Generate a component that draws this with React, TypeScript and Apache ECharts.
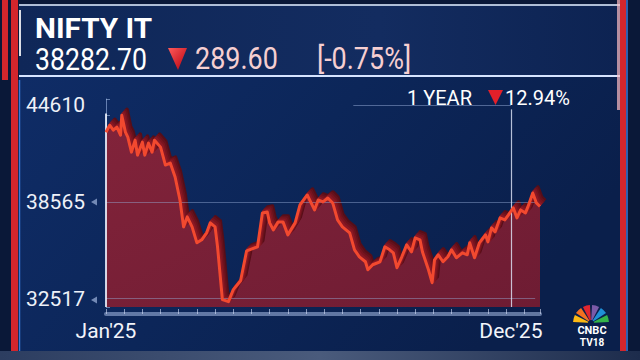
import React, { useEffect, useRef } from "react";
import * as echarts from "echarts";

// Day of year 2025 (0 = 1 Jan) and NIFTY IT close
const days = [
  0, 3, 6, 9, 12, 13, 16, 18, 21, 24,
  26, 30, 32, 35, 38, 40, 45, 49, 53, 57,
  61, 64, 67, 71, 75, 79, 83, 86, 90, 92,
  96, 101, 105, 111, 116, 125, 129, 133, 135, 138,
  142, 146, 150, 156, 160, 166, 170, 172, 175, 179,
  183, 187, 191, 195, 201, 205, 209, 214, 216, 220,
  226, 230, 234, 237, 240, 244, 248, 252, 255, 259,
  261, 266, 269, 271, 274, 278, 282, 285, 289, 294,
  298, 300, 304, 308, 313, 315, 318, 321, 325, 329,
  332, 336, 339, 342, 346, 348, 352, 355, 358,
];
const values = [
  42926, 43362, 43051, 43238, 42739, 43985, 42926, 42615, 41680, 42428,
  41493, 42303, 41493, 42241, 41680, 42428, 41992, 40870, 40995, 40123,
  38690, 37008, 37631, 37008, 36011, 36198, 36634, 37257, 37008, 35762,
  32460, 32335, 33083, 33643, 35512, 35762, 37880, 37942, 37257, 36821,
  37319, 37319, 36509, 37257, 38378, 39001, 38378, 38067, 38690, 38565,
  38814, 38503, 37444, 37008, 36634, 35575, 35138, 34827, 34329, 34640,
  34827, 35762, 35575, 35388, 34453, 35138, 35886, 35450, 36322, 36198,
  35450, 34329, 33519, 34952, 35263, 34827, 35138, 35575, 35076, 35388,
  35263, 36011, 35076, 36011, 36509, 36073, 36945, 36696, 37568, 37444,
  37755, 38191, 37568, 38067, 37880, 38254, 39126, 38503, 38283,
];

const yTickValues = [32517, 38565, 44610];
const xTickDays = [0, 334];
const xTickLabels = ["Jan'25", "Dec'25"];

const title = "NIFTY IT";
const lastPrice = "38282.70";
const change = "289.60";
const changePct = "[-0.75%]";
const yearLabel = "1 YEAR";
const yearPct = "12.94%";

const Y_MIN = 32000;
const Y_MAX = 45000;
const X_MIN = 0;
const X_MAX = 358;

export default function App() {
  const ref = useRef<HTMLDivElement>(null);

  useEffect(() => {
    if (!ref.current) return;
    const chart = echarts.init(ref.current, undefined, { renderer: "svg" });
    const data = days.map((d, i) => [d, values[i]]);

    const base = { left: 106, right: 100, top: 99, bottom: 53 };
    const layers = [1, 2, 3, 4];
    const grids: any[] = [base];
    layers.forEach((k) => {
      grids.push({
        left: base.left + 1.3 * k,
        right: base.right - 1.3 * k,
        top: base.top - 1.5 * k,
        bottom: base.bottom + 1.5 * k,
      });
    });

    const xAxes: any[] = [
      {
        type: "value",
        gridIndex: 0,
        min: X_MIN,
        max: X_MAX,
        interval: 15,
        offset: 7,
        axisLine: { show: true, lineStyle: { color: "rgba(170,190,230,0.55)", width: 4 } },
        axisTick: { show: true, inside: true, length: 5, lineStyle: { color: "rgba(215,225,250,0.6)" } },
        axisLabel: {
          customValues: xTickDays,
          showMinLabel: true,
          formatter: (v: number) => {
            const i = xTickDays.indexOf(v);
            return i >= 0 ? xTickLabels[i] : "";
          },
          color: "#f2f4fa",
          fontSize: 21,
          fontFamily: "Roboto",
          margin: 6,
        },
        splitLine: { show: false },
      },
    ];
    const yAxes: any[] = [
      {
        type: "value",
        gridIndex: 0,
        min: Y_MIN,
        max: Y_MAX,
        interval: 1000,
        offset: 6,
        axisLine: { show: true, lineStyle: { color: "rgba(160,185,230,0.6)", width: 1 } },
        axisTick: { show: true, inside: true, length: 4, lineStyle: { color: "rgba(170,195,235,0.55)" } },
        axisLabel: {
          customValues: yTickValues,
          formatter: (v: number) => String(v),
          color: "#eef1f8",
          fontSize: 21,
          fontFamily: "Roboto",
          margin: 15,
        },
        splitLine: { show: false },
      },
    ];
    layers.forEach((k) => {
      xAxes.push({ type: "value", gridIndex: k, min: X_MIN, max: X_MAX, show: false });
      yAxes.push({ type: "value", gridIndex: k, min: Y_MIN, max: Y_MAX, show: false });
    });

    const layerColors = ["#8a1824", "#78141f", "#66111c", "#560e18"];
    const extrusion = layers
      .slice()
      .reverse()
      .map((k) => ({
        type: "line",
        xAxisIndex: k,
        yAxisIndex: k,
        data,
        symbol: "none",
        silent: true,
        z: 3,
        lineStyle: { color: layerColors[k - 1], width: 3.5, join: "round" },
      }));

    const gridLine = { color: "rgba(150,172,215,0.45)", width: 1, type: "solid" };

    const option: any = {
      animation: false,
      backgroundColor: "#0a1838",
      grid: grids,
      xAxis: xAxes,
      yAxis: yAxes,
      series: [
        {
          type: "line",
          xAxisIndex: 0,
          yAxisIndex: 0,
          data,
          symbol: "none",
          z: 2,
          lineStyle: { width: 0 },
          areaStyle: {
            color: {
              type: "linear",
              x: 0, y: 0, x2: 1, y2: 1,
              colorStops: [
                { offset: 0, color: "#82233a" },
                { offset: 1, color: "#6e1c33" },
              ],
            },
            opacity: 1,
          },
          markLine: {
            silent: true,
            symbol: "none",
            label: { show: false },
            data: [
              [{ coord: [0, 38565], lineStyle: gridLine }, { coord: [354, 38565] }],
              [{ coord: [0, 32517], lineStyle: gridLine }, { coord: [354, 32517] }],
              [{ coord: [204, 44610], lineStyle: { ...gridLine, color: "rgba(150,172,215,0.5)" } }, { coord: [334, 44610] }],
              [{ coord: [334, 44350], lineStyle: { color: "rgba(225,232,250,0.8)", width: 1.2, type: "solid" } }, { coord: [334, 32000] }],
              [{ coord: [0, 44100], lineStyle: { color: "rgba(240,245,255,0.85)", width: 2, type: "solid" } }, { coord: [0, 32000] }],
            ],
          },
        },
        ...extrusion,
        {
          type: "line",
          xAxisIndex: 0,
          yAxisIndex: 0,
          data,
          symbol: "none",
          z: 5,
          lineStyle: { color: "#f2492f", width: 3, join: "round" },
        },
      ],
      graphic: {
        elements: [
          // chart panel
          {
            type: "rect", z: -100, silent: true,
            shape: { x: 19, y: 77, width: 601, height: 275 },
            style: {
              fill: {
                type: "linear", x: 0, y: 0, x2: 1, y2: 0.4,
                colorStops: [
                  { offset: 0, color: "#0f2c66" },
                  { offset: 0.5, color: "#0c2659" },
                  { offset: 1, color: "#0a1f4b" },
                ],
              },
            },
          },
          // header
          {
            type: "rect", z: -100, silent: true,
            shape: { x: 19, y: 5, width: 601, height: 71 },
            style: {
              fill: {
                type: "linear", x: 0, y: 0, x2: 1, y2: 0,
                colorStops: [
                  { offset: 0, color: "#0f2758" },
                  { offset: 0.6, color: "#132c60" },
                  { offset: 1, color: "#0d2352" },
                ],
              },
            },
          },
          { type: "line", z: -90, silent: true, shape: { x1: 19, y1: 5, x2: 620, y2: 5 }, style: { stroke: "rgba(205,218,240,0.85)", lineWidth: 2 } },
          { type: "line", z: -90, silent: true, shape: { x1: 19, y1: 76, x2: 620, y2: 76 }, style: { stroke: "#d6e4ff", lineWidth: 2 } },
          { type: "line", z: -90, silent: true, shape: { x1: 20, y1: 10, x2: 20, y2: 56 }, style: { stroke: "rgba(255,255,255,0.85)", lineWidth: 2 } },
          // side bars
          { type: "rect", z: -80, silent: true, shape: { x: 2, y: 0, width: 6, height: 80 }, style: { fill: "#d3262c" } },
          { type: "rect", z: -80, silent: true, shape: { x: 11, y: 0, width: 7, height: 352 }, style: { fill: "#d3262c" } },
          { type: "line", z: -80, silent: true, shape: { x1: 19.5, y1: 80, x2: 19.5, y2: 352 }, style: { stroke: "#3a78d8", lineWidth: 1.5 } },
          { type: "rect", z: -80, silent: true, shape: { x: 620, y: 0, width: 6, height: 353 }, style: { fill: "#d3262c" } },
          { type: "rect", z: -79, silent: true, shape: { x: 617, y: 0, width: 3, height: 110 }, style: { fill: "rgba(255,190,195,0.7)" } },
          { type: "line", z: -80, silent: true, shape: { x1: 627, y1: 0, x2: 627, y2: 353 }, style: { stroke: "#3a78d8", lineWidth: 1.5 } },
          // small pointer triangles beside the value labels
          { type: "polygon", z: 10, silent: true, shape: { points: [[91, 202], [97, 198.5], [97, 205.5]] }, style: { fill: "rgba(160,180,220,0.7)" } },
          { type: "polygon", z: 10, silent: true, shape: { points: [[91, 300], [97, 296.5], [97, 303.5]] }, style: { fill: "rgba(160,180,220,0.7)" } },
          // bottom strip
          {
            type: "rect", z: -80, silent: true,
            shape: { x: 0, y: 351, width: 640, height: 9 },
            style: {
              fill: {
                type: "linear", x: 0, y: 0, x2: 1, y2: 0,
                colorStops: [
                  { offset: 0, color: "#2c3d60" },
                  { offset: 0.5, color: "#4a5b7c" },
                  { offset: 1, color: "#1d2c4c" },
                ],
              },
            },
          },
          // header texts
          {
            type: "text", z: 50, x: 35, y: 28, scaleX: 1.06,
            style: { x: 0, y: 0, text: title, fill: "#ffffff", font: "bold 28px Roboto", verticalAlign: "middle", align: "left" },
          },
          {
            type: "text", z: 50, x: 35, y: 59, scaleX: 0.86,
            style: { x: 0, y: 0, text: lastPrice, fill: "#ffffff", font: "31px Roboto", verticalAlign: "middle", align: "left" },
          },
          {
            type: "polygon", z: 50, silent: true,
            shape: { points: [[168, 48], [187, 48], [178, 70]] },
            style: {
              fill: {
                type: "linear", x: 0, y: 0, x2: 1, y2: 1,
                colorStops: [
                  { offset: 0, color: "#ff5a5a" },
                  { offset: 1, color: "#b5000f" },
                ],
              },
            },
          },
          {
            type: "text", z: 50, x: 195, y: 58, scaleX: 0.87,
            style: { x: 0, y: 0, text: change, fill: "#f6cfd1", font: "31px Roboto", verticalAlign: "middle", align: "left" },
          },
          {
            type: "text", z: 50, x: 317, y: 58, scaleX: 0.87,
            style: { x: 0, y: 0, text: changePct, fill: "#f6cfd1", font: "31px Roboto", verticalAlign: "middle", align: "left" },
          },
          // 1 year
          {
            type: "text", z: 50, x: 407, y: 98,
            style: { x: 0, y: 0, text: yearLabel, fill: "#ffffff", font: "20px Roboto", verticalAlign: "middle", align: "left" },
          },
          {
            type: "polygon", z: 50, silent: true,
            shape: { points: [[488, 90], [503, 90], [495.5, 105]] },
            style: { fill: "#e3202a" },
          },
          {
            type: "text", z: 50, x: 505, y: 98,
            style: { x: 0, y: 0, text: yearPct, fill: "#ffffff", font: "20px Roboto", verticalAlign: "middle", align: "left" },
          },
          // CNBC peacock
          ...["#fdb913", "#f37021", "#e2262f", "#7a5aa8", "#1f8fd6", "#34b44a"].map((c, i) => ({
            type: "sector", z: 50, silent: true,
            shape: {
              cx: 591, cy: 323, r: 18, r0: 3,
              startAngle: Math.PI + (i * Math.PI) / 6 + 0.06,
              endAngle: Math.PI + ((i + 1) * Math.PI) / 6 - 0.06,
            },
            style: { fill: c },
          })),
          {
            type: "text", z: 50, x: 592, y: 330,
            style: { x: 0, y: 0, text: "CNBC", fill: "#ffffff", font: "bold 11px Roboto", verticalAlign: "middle", align: "center" },
          },
          {
            type: "text", z: 50, x: 592, y: 342,
            style: { x: 0, y: 0, text: "TV18", fill: "#ffffff", font: "bold 10px Roboto", verticalAlign: "middle", align: "center" },
          },
        ],
      },
    };

    chart.setOption(option);
    return () => chart.dispose();
  }, []);

  return (
    <div
      ref={ref}
      style={{ position: "fixed", left: 0, top: 0, width: 640, height: 360 }}
    />
  );
}
